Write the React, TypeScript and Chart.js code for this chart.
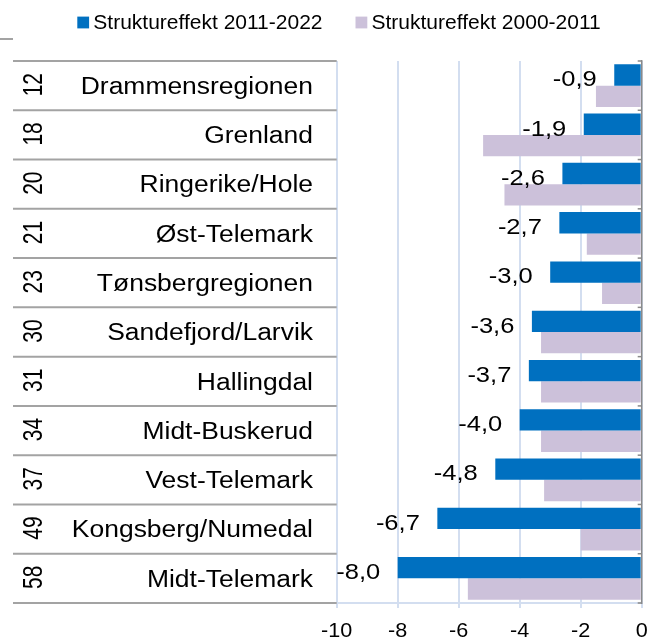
import React, { useEffect, useRef } from "react";
import { Chart, registerables } from "chart.js";

Chart.register(...registerables);

// ---- data ----
const categories = [
  "Drammensregionen",
  "Grenland",
  "Ringerike/Hole",
  "Øst-Telemark",
  "Tønsbergregionen",
  "Sandefjord/Larvik",
  "Hallingdal",
  "Midt-Buskerud",
  "Vest-Telemark",
  "Kongsberg/Numedal",
  "Midt-Telemark",
];
const ranks = ["12", "18", "20", "21", "23", "30", "31", "34", "37", "49", "58"];
const effect2011_2022 = [-0.9, -1.9, -2.6, -2.7, -3.0, -3.6, -3.7, -4.0, -4.8, -6.7, -8.0];
const effect2000_2011 = [-1.5, -5.2, -4.5, -1.8, -1.3, -3.3, -3.3, -3.3, -3.2, -2.0, -5.7];
const seriesNames = ["Struktureffekt 2011-2022", "Struktureffekt 2000-2011"];
const seriesColors = ["#0070C0", "#CCC1DA"];
const xTicks = [-10, -8, -6, -4, -2, 0];

const FONT = '"Liberation Sans", Arial, sans-serif';

function drawText(
  ctx: CanvasRenderingContext2D,
  text: string,
  x: number,
  y: number,
  size: number,
  sx: number,
  align: CanvasTextAlign,
  rotate = false,
  color = "#000000"
) {
  ctx.save();
  ctx.translate(x, y);
  if (rotate) {
    ctx.rotate(-Math.PI / 2);
    ctx.scale(1, sx);
  } else {
    ctx.scale(sx, 1);
  }
  ctx.font = `${size}px ${FONT}`;
  ctx.textAlign = align;
  ctx.textBaseline = "alphabetic";
  ctx.fillStyle = color;
  ctx.fillText(text, 0, 0);
  ctx.restore();
}

const decorPlugin = {
  id: "decor",
  afterDatasetsDraw(chart: any) {
    const ctx: CanvasRenderingContext2D = chart.ctx;
    const meta = chart.getDatasetMeta(0);
    meta.data.forEach((bar: any, i: number) => {
      const v = effect2011_2022[i];
      const label = v.toFixed(1).replace(".", ",");
      drawText(ctx, label, bar.x - 17.5, bar.y + 11.3, 22, 1.16, "right");
    });
  },
  afterDraw(chart: any) {
    const ctx: CanvasRenderingContext2D = chart.ctx;
    const { left, right, top, bottom } = chart.chartArea;
    const yScale = chart.scales.y;
    const xScale = chart.scales.x;
    const n = categories.length;
    const step = (bottom - top) / n;

    // table lines on the left
    ctx.save();
    ctx.strokeStyle = "#a3a3a3";
    ctx.lineWidth = 2;
    for (let i = 0; i <= n; i++) {
      const yy = top + i * step;
      ctx.beginPath();
      ctx.moveTo(13, yy);
      ctx.lineTo(left, yy);
      ctx.stroke();
    }
    ctx.beginPath();
    ctx.moveTo(0, 39);
    ctx.lineTo(13, 39);
    ctx.stroke();
    ctx.restore();

    // ranks + names
    categories.forEach((name, i) => {
      const cy = yScale.getPixelForValue(i);
      drawText(ctx, ranks[i], 42, cy - 1, 21, 1.3, "center", true);
      drawText(ctx, name, 313, cy + 8.3, 23, 1.15, "right");
    });

    // right value axis line with inward ticks
    ctx.save();
    ctx.strokeStyle = "#8a8a8a";
    ctx.lineWidth = 1.5;
    ctx.beginPath();
    ctx.moveTo(right, top - 1);
    ctx.lineTo(right, bottom + 1);
    ctx.stroke();
    for (let i = 0; i <= n; i++) {
      const yy = top + i * step;
      ctx.beginPath();
      ctx.moveTo(right - 4, yy);
      ctx.lineTo(right, yy);
      ctx.stroke();
    }
    ctx.restore();

    // x tick labels
    xTicks.forEach((t) => {
      drawText(ctx, String(t), xScale.getPixelForValue(t), bottom + 33.7, 20, 1.08, "center");
    });

    // legend
    ctx.save();
    ctx.font = `21px ${FONT}`;
    let lx = 77.3;
    seriesNames.forEach((name, i) => {
      ctx.fillStyle = seriesColors[i];
      ctx.fillRect(lx, 16.6, 11.8, 11.8);
      const tx = lx + 16;
      drawText(ctx, name, tx, 29.3, 21, 1, "left");
      const w = ctx.measureText(name).width;
      lx = tx + w + 33;
    });
    ctx.restore();
  },
};

export default function App() {
  const canvasRef = useRef<HTMLCanvasElement | null>(null);

  useEffect(() => {
    const canvas = canvasRef.current;
    if (!canvas) return;
    const chart = new Chart(canvas, {
      type: "bar",
      data: {
        labels: categories,
        datasets: [
          {
            label: seriesNames[0],
            data: effect2011_2022,
            backgroundColor: seriesColors[0],
            categoryPercentage: 0.866,
            barPercentage: 1.0,
          },
          {
            label: seriesNames[1],
            data: effect2000_2011,
            backgroundColor: seriesColors[1],
            categoryPercentage: 0.866,
            barPercentage: 1.0,
          },
        ],
      },
      options: {
        indexAxis: "y",
        responsive: false,
        animation: false,
        layout: {
          padding: { left: 336.7, right: 18.3, top: 61, bottom: 34 },
        },
        plugins: {
          legend: { display: false },
          tooltip: { enabled: false },
        },
        scales: {
          x: {
            type: "linear",
            min: -10,
            max: 0,
            ticks: { display: false, stepSize: 2 },
            grid: {
              color: "#D3DEF0",
              lineWidth: 2,
              drawTicks: true,
              tickLength: 5,
            },
            border: { display: true, color: "#D3DEF0", width: 2 },
          },
          y: {
            type: "category",
            display: false,
          },
        },
      },
      plugins: [decorPlugin],
    });
    return () => chart.destroy();
  }, []);

  return (
    <div style={{ position: "fixed", left: 0, top: 0, width: 660, height: 642, background: "#ffffff" }}>
      <canvas ref={canvasRef} width={660} height={642} style={{ display: "block" }} />
    </div>
  );
}
